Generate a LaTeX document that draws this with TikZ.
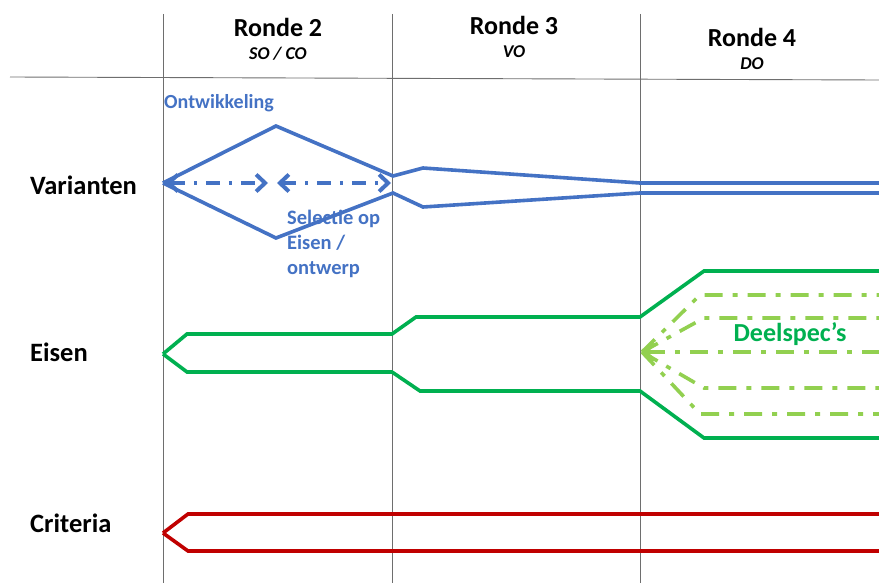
\documentclass[tikz,border=0pt]{standalone}
\usepackage{fontspec}
\setmainfont{Carlito}
\usetikzlibrary{arrows.meta}
\definecolor{varblue}{RGB}{68,114,196}
\definecolor{eisgreen}{RGB}{0,176,80}
\definecolor{specgreen}{RGB}{146,208,80}
\definecolor{critred}{RGB}{192,0,0}
\definecolor{gridgray}{RGB}{110,110,110}

\begin{document}
\begin{tikzpicture}[x=1pt, y=-1pt, line join=miter,
			gridline/.style={gridgray, line width=0.9pt},
			track/.style={line width=3.6pt},
			devarrow/.style={varblue, line width=3.4pt, dash pattern=on 14pt off 9pt on 3pt off 9pt},
			specline/.style={specgreen, line width=3.6pt, dash pattern=on 18pt off 10pt on 5pt off 10pt},
			rowlabel/.style={anchor=west, inner sep=0pt, font=\bfseries\fontsize{26.5}{30}\selectfont},
			>={Straight Barb[length=9pt, width=17pt, line width=4pt]},
			font=\bfseries]
			\useasboundingbox (0,0) rectangle (879,583);
			% Raster
			\foreach \x in {163,392,640} \draw[gridline] (\x,14) -- (\x,583);
			\draw[gridline] (10,77) -- (879,80);
			% Kopjes
			\foreach \x/\y/\nr/\fase in {278/27/2/{SO / CO},514/25/3/VO,752/37/4/DO}{
				\node[font=\bfseries\fontsize{26}{30}\selectfont] (ronde\nr) at (\x,\y) {Ronde \nr};
				\node[font=\bfseries\itshape\fontsize{18}{20}\selectfont] (fase\nr) at (\x,\y+27) {\fase};
			}
			% Rijen
			\node[rowlabel] (varianten) at (30,185) {Varianten};
			\node[rowlabel] (eisen) at (30,352) {Eisen};
			\node[rowlabel] (criteria) at (30,523) {Criteria};
			% Varianten
			\draw[varblue, track] (163,183) -- (276,126) -- (393,176) -- (423,168) -- (640,183) -- (879,183);
			\draw[varblue, track] (163,183) -- (276,238) -- (393,193) -- (423,207) -- (640,193) -- (879,193);
			\coordinate (vleft) at (166,183);
			\coordinate (vmidl) at (268,183);
			\coordinate (vmidr) at (277,183);
			\coordinate (vright) at (391,183);
			\draw[devarrow, <->] (vleft) -- (vmidl);
			\draw[devarrow, <->] (vmidr) -- (vright);
			\node[varblue, anchor=west, inner sep=0pt, font=\bfseries\fontsize{20}{25}\selectfont] (ontw) at (164,103) {Ontwikkeling};
			\node[varblue, anchor=north west, inner sep=0pt, align=left, font=\bfseries\fontsize{20.5}{25}\selectfont] (selectie) at (287,210) {Selectie op\\Eisen /\\ontwerp};
			% Eisen
			\draw[eisgreen, track] (163,354) -- (187,334) -- (392,334) -- (416,317) -- (640,317) -- (704,271) -- (879,271);
			\draw[eisgreen, track] (163,354) -- (187,372) -- (392,372) -- (420,391) -- (640,391) -- (704,438) -- (879,438);
			\coordinate (spec) at (642,352);
			\foreach \y/\xs in {295/700,318/704,388/704,414/700} \draw[specline] (spec) -- (\xs,\y) -- (879,\y);
			\draw[specline, <-] (spec) -- (879,352);
			\node[eisgreen, font=\bfseries\fontsize{26}{30}\selectfont] (deelspec) at (790,334) {Deelspec’s};
			% Criteria
			\draw[critred, track] (163,533) -- (188,514) -- (879,514);
			\draw[critred, track] (163,533) -- (188,551) -- (879,551);
		\end{tikzpicture}
\end{document}
